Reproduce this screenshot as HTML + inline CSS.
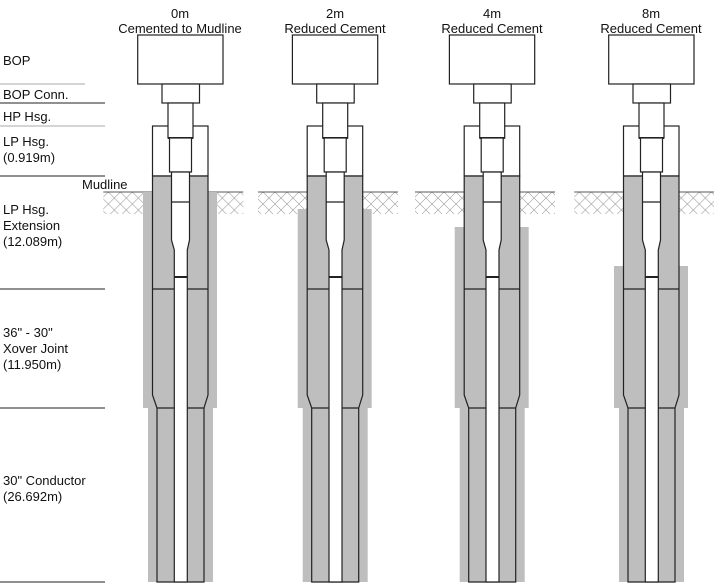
<!DOCTYPE html>
<html><head><meta charset="utf-8"><style>
html,body{margin:0;padding:0;background:#fff;}
svg{display:block;font-family:"Liberation Sans",Arial,sans-serif;}
</style></head><body>
<svg width="714" height="583" viewBox="0 0 714 583" xmlns="http://www.w3.org/2000/svg">
<defs>
<pattern id="h" width="12" height="12" patternUnits="userSpaceOnUse">
<path d="M0 0L12 12M12 0L0 12" stroke="#999" stroke-width="0.6"/>
</pattern>
<g id="col">
 <rect x="-77" y="192" width="140" height="22" fill="url(#h)"/>
 <line x1="-77" y1="192" x2="63" y2="192" stroke="#222" stroke-width="0.8"/>
</g>
<g id="well" stroke="#222" stroke-width="1.2">
 <rect x="-42.6" y="35" width="85.3" height="49" fill="#fff"/>
 <rect x="-18.3" y="84" width="37.5" height="19" fill="#fff"/>
 <rect x="-27.8" y="126" width="55.5" height="50" fill="#fff"/>
 <rect x="-12.3" y="103" width="25" height="35" fill="#fff"/>
 <line x1="-12.3" y1="138" x2="12.7" y2="138" stroke-width="2"/>
 <rect x="-10.8" y="138" width="22" height="34" fill="#fff"/>
 <polygon points="-27.8,176 27.7,176 27.7,395 23.7,408 23.7,582 -23.3,582 -23.3,408 -27.8,395" fill="#bebebe"/>
 <polygon points="-8.8,172 9.2,172 9.2,240 7,250 7,582 -6,582 -6,250 -8.8,240" fill="#fff"/>
 <line x1="-8.8" y1="202" x2="9.2" y2="202"/>
 <line x1="-6" y1="277" x2="7" y2="277" stroke-width="2"/>
 <line x1="-27.8" y1="289" x2="-6" y2="289"/>
 <line x1="7" y1="289" x2="27.7" y2="289"/>
 <line x1="-23.3" y1="408" x2="-6" y2="408"/>
 <line x1="7" y1="408" x2="23.7" y2="408"/>
</g>
</defs>

<!-- left labels & lines -->
<g stroke-width="1">
<line x1="0" y1="84" x2="85" y2="84" stroke="#aaa"/>
<line x1="0" y1="103" x2="105" y2="103" stroke="#222"/>
<line x1="0" y1="126" x2="105" y2="126" stroke="#aaa"/>
<line x1="0" y1="176" x2="105" y2="176" stroke="#222"/>
<line x1="0" y1="289" x2="105" y2="289" stroke="#222"/>
<line x1="0" y1="408" x2="105" y2="408" stroke="#222"/>
<line x1="0" y1="582" x2="105" y2="582" stroke="#222"/>
</g>
<g font-size="13" fill="#111">
<text x="3" y="65">BOP</text>
<text x="3" y="99">BOP Conn.</text>
<text x="3" y="121">HP Hsg.</text>
<text x="3" y="146">LP Hsg.</text>
<text x="3" y="162">(0.919m)</text>
<text x="82" y="189">Mudline</text>
<text x="3" y="214">LP Hsg.</text>
<text x="3" y="230">Extension</text>
<text x="3" y="246">(12.089m)</text>
<text x="3" y="337">36" - 30"</text>
<text x="3" y="353">Xover Joint</text>
<text x="3" y="369">(11.950m)</text>
<text x="3" y="485">30" Conductor</text>
<text x="3" y="501">(26.692m)</text>
</g>

<!-- column titles -->
<g font-size="13" fill="#111" text-anchor="middle">
<text x="180" y="18">0m</text><text x="180" y="33">Cemented to Mudline</text>
<text x="335" y="18">2m</text><text x="335" y="33">Reduced Cement</text>
<text x="492" y="18">4m</text><text x="492" y="33">Reduced Cement</text>
<text x="651" y="18">8m</text><text x="651" y="33">Reduced Cement</text>
</g>

<!-- col1 -->
<g transform="translate(180.3,0)">
 <use href="#col"/>
 <rect x="-37.3" y="192" width="74" height="216" fill="#bebebe"/>
 <rect x="-32.3" y="408" width="65" height="174" fill="#bebebe"/>
 <use href="#well"/>
</g>
<g transform="translate(335,0)">
 <use href="#col"/>
 <rect x="-37.3" y="209" width="74" height="199" fill="#bebebe"/>
 <rect x="-32.3" y="408" width="65" height="174" fill="#bebebe"/>
 <use href="#well"/>
</g>
<g transform="translate(492,0)">
 <use href="#col"/>
 <rect x="-37.3" y="227" width="74" height="181" fill="#bebebe"/>
 <rect x="-32.3" y="408" width="65" height="174" fill="#bebebe"/>
 <use href="#well"/>
</g>
<g transform="translate(651.3,0)">
 <use href="#col"/>
 <rect x="-37.3" y="266" width="74" height="142" fill="#bebebe"/>
 <rect x="-32.3" y="408" width="65" height="174" fill="#bebebe"/>
 <use href="#well"/>
</g>
</svg>
</body></html>
